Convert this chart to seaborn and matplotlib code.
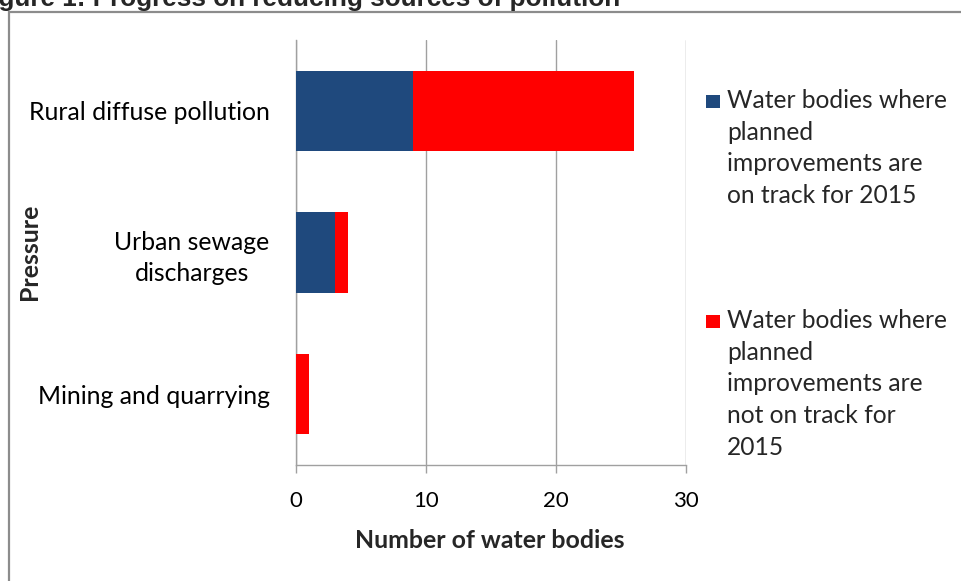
import matplotlib
matplotlib.use("Agg")
import matplotlib.pyplot as plt
from matplotlib.patches import Rectangle
import seaborn as sns
import pandas as pd

# Data: number of water bodies per pressure type
pressures = ["Rural diffuse pollution", "Urban sewage\ndischarges", "Mining and quarrying"]
on_track = [9, 3, 0]
not_on_track = [17, 1, 1]
x_ticks = [0, 10, 20, 30]

legend_labels = [
    "Water bodies where\nplanned\nimprovements are\non track for 2015",
    "Water bodies where\nplanned\nimprovements are\nnot on track for\n2015",
]
title = "Figure 1: Progress on reducing sources of pollution"
x_label = "Number of water bodies"
y_label = "Pressure"

BLUE = "#1F497D"
RED = "#FF0000"
GRID = "#A0A0A0"
FONT = "Lato"

sns.set_style("white")
plt.rcParams["font.family"] = [FONT, "DejaVu Sans"]

W, H = 962, 581
fig = plt.figure(figsize=(W / 100, H / 100), dpi=100)

def px(x, y):
    return x / W, 1 - y / H

# Axes placement
l, t = px(296, 40)
r, b = px(686, 465)
ax = fig.add_axes([l, b, r - l, t - b])

df = pd.DataFrame({
    "pressure": pressures,
    "on_track": on_track,
    "total": [a + c for a, c in zip(on_track, not_on_track)],
})

# Stacked horizontal bars: total drawn first, on-track segment over it
sns.barplot(data=df, x="total", y="pressure", color=RED, saturation=1,
            width=0.565, ax=ax, zorder=3)
sns.barplot(data=df, x="on_track", y="pressure", color=BLUE, saturation=1,
            width=0.565, ax=ax, zorder=4)
for p in ax.patches:
    p.set_linewidth(0)

ax.set_xlim(0, 30)
ax.set_ylim(2.5, -0.5)
ax.set_xticks(x_ticks)
ax.set_xticklabels([str(v) for v in x_ticks], fontsize=16)
ax.xaxis.grid(True, color=GRID, linewidth=1.0, zorder=0)
ax.set_axisbelow(True)
ax.tick_params(axis="x", length=6, width=1, color=GRID, pad=12.5, labelcolor="#000000", bottom=True)
ax.tick_params(axis="y", length=0, pad=19, labelsize=17.8, labelcolor="#000000")
for lab in ax.get_yticklabels():
    lab.set_multialignment("center")
    lab.set_linespacing(1.42)

for side in ["top", "right"]:
    ax.spines[side].set_visible(False)
for side in ["left", "bottom"]:
    ax.spines[side].set_color(GRID)
    ax.spines[side].set_linewidth(1.0)

ax.set_xlabel("")
ax.set_ylabel("")
fig.text(*px(490, 541), x_label, ha="center", va="center", fontsize=17.9, fontweight="bold")
fig.text(*px(30, 252), y_label, ha="center", va="center", rotation=90, fontsize=17.9, fontweight="bold")

# Outer frame around the chart
fx, fy = px(9, 12)
fig.add_artist(Rectangle((fx, -0.1), 1.2, fy + 0.1, transform=fig.transFigure,
                         fill=False, edgecolor="#8C8C8C", linewidth=1.6))

# Title above the frame
fig.text(*px(620, 6), title, ha="right", va="baseline", fontsize=18.8,
         fontweight="bold", family=["Liberation Sans", "DejaVu Sans"])

# Legend entries
entries = [(BLUE, legend_labels[0], 95), (RED, legend_labels[1], 315)]
for color, text, ytop in entries:
    sx, sy = px(706, ytop + 13)
    fig.add_artist(Rectangle((sx, sy), 14 / W, 13 / H, transform=fig.transFigure,
                             facecolor=color, edgecolor="none"))
    fig.text(*px(727, ytop - 6), text, ha="left", va="top", fontsize=17.7,
             linespacing=1.46)

fig.savefig("out.png", dpi=100)
